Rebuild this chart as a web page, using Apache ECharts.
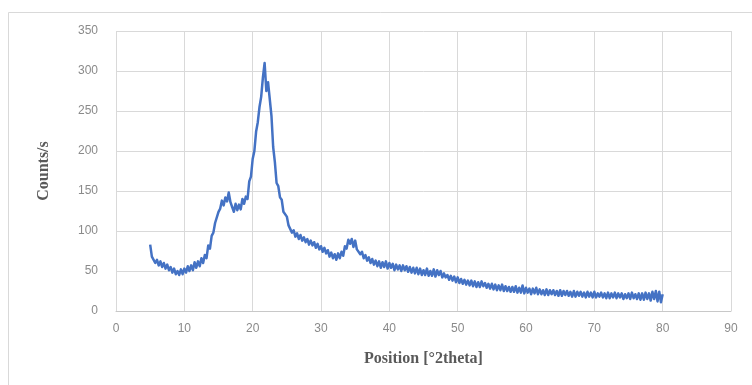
<!DOCTYPE html>
<html>
<head>
<meta charset="utf-8">
<script src="https://cdn.jsdelivr.net/npm/echarts@6/dist/echarts.min.js"></script>
<style>
  html, body { margin: 0; padding: 0; background: #fff; }
  #chart { width: 752px; height: 385px; }
</style>
</head>
<body>
<div id="chart"></div>
<script>
// scan start / step in degrees 2theta
const xStart = 5;
const xStep = 0.25;

// counts per second, one value per 0.25 deg from 5 to 80
const counts = [
  83, 68, 70, 60,   64, 57, 62, 55,   60, 53, 58, 51,   55, 48, 53, 46,   // 5-8
  50, 45, 52, 46,   53, 48, 56, 50,   57, 51, 61, 54,   62, 56, 66, 60,   // 9-12
  70, 66, 82, 78,   94, 98, 110, 112, 124, 128, 138, 132, 142, 137, 148, 136, // 13-16
  130, 124, 134, 126, 133, 127, 140, 134, 143, 140, 162, 168, 190, 200, 224, 236, // 17-20
  255, 268, 292, 310, 275, 286, 265, 244, 205, 186, 160, 156, 142, 139, 124, 124, // 21-24
  118, 107, 109, 98,  101, 93, 97, 90,  95, 88, 92, 86,   90, 83, 88, 82,   // 25-28
  86, 79, 84, 77,   81, 74, 79, 72,   76, 68, 73, 66,   71, 64, 72, 66,   // 29-32
  74, 69, 81, 78,   89, 84, 90, 80,   88, 77, 79, 71,   74, 66, 70, 63,   // 33-36
  67, 60, 65, 58,   63, 56, 62, 54,   61, 55, 62, 53,   60, 54, 59, 51,   // 37-40
  58, 52, 57, 50,   57, 51, 56, 49,   55, 48, 54, 47,   54, 46, 53, 45,   // 41-44
  51, 45, 53, 44,   50, 44, 52, 43,   51, 45, 50, 42,   47, 42, 45, 39,   // 45-48
  44, 38, 43, 36,   42, 35, 40, 34,   39, 33, 38, 32,   38, 31, 37, 30,   // 49-52
  36, 30, 37, 31,   35, 29, 34, 28,   34, 27, 33, 26,   32, 26, 33, 25,   // 53-56
  31, 25, 30, 24,   30, 24, 31, 23,   29, 23, 32, 22,   29, 23, 28, 21,   // 57-60
  28, 22, 29, 21,   27, 21, 26, 20,   27, 20, 26, 21,   26, 20, 25, 19,   // 61-64
  26, 19, 25, 20,   25, 19, 24, 18,   25, 18, 24, 19,   24, 18, 23, 17,   // 65-68
  24, 18, 23, 17,   24, 17, 22, 18,   23, 17, 22, 16,   23, 16, 22, 17,   // 69-72
  23, 16, 22, 17,   22, 15, 21, 16,   22, 15, 23, 16,   21, 15, 22, 14,   // 73-76
  22, 14, 23, 15,   22, 13, 24, 15,   25, 12, 24, 11,   21                 // 77-80
];

const xTicks = { min: 0, max: 90, interval: 10 };
const yTicks = { min: 0, max: 350, interval: 50 };

const points = counts.map((c, i) => [xStart + i * xStep, c]);

const chart = echarts.init(document.getElementById('chart'));
chart.setOption({
  animation: false,
  backgroundColor: '#ffffff',
  graphic: [{
    type: 'rect',
    shape: { x: 8.5, y: 12.5, width: 800, height: 400 },
    style: { fill: 'none', stroke: '#d9d9d9', lineWidth: 1 },
    silent: true
  }],
  grid: { left: 116, right: 21, top: 31, bottom: 74 },
  xAxis: {
    type: 'value',
    min: xTicks.min, max: xTicks.max, interval: xTicks.interval,
    name: 'Position [°2theta]',
    nameLocation: 'middle',
    nameGap: 40,
    nameTextStyle: { fontFamily: 'Liberation Serif', fontWeight: 'bold', fontSize: 16, color: '#595959' },
    axisLine: { show: true, lineStyle: { color: '#c8c8c8', width: 1 } },
    axisTick: { show: false },
    axisLabel: { margin: 12, fontFamily: 'Liberation Sans', fontSize: 12, color: '#8a8a8a' },
    splitLine: { show: true, lineStyle: { color: '#d9d9d9', width: 1 } }
  },
  yAxis: {
    type: 'value',
    min: yTicks.min, max: yTicks.max, interval: yTicks.interval,
    name: 'Counts/s',
    nameLocation: 'middle',
    nameGap: 64,
    nameTextStyle: { fontFamily: 'Liberation Serif', fontWeight: 'bold', fontSize: 16, color: '#595959' },
    axisLine: { show: false },
    axisTick: { show: false },
    axisLabel: { margin: 18, fontFamily: 'Liberation Sans', fontSize: 12, color: '#8a8a8a' },
    splitLine: { show: true, lineStyle: { color: '#d9d9d9', width: 1 } }
  },
  series: [{
    type: 'line',
    data: points,
    showSymbol: false,
    smooth: false,
    lineStyle: { color: '#4472c4', width: 2.5, join: 'round' },
    itemStyle: { color: '#4472c4' }
  }]
});
</script>
</body>
</html>
